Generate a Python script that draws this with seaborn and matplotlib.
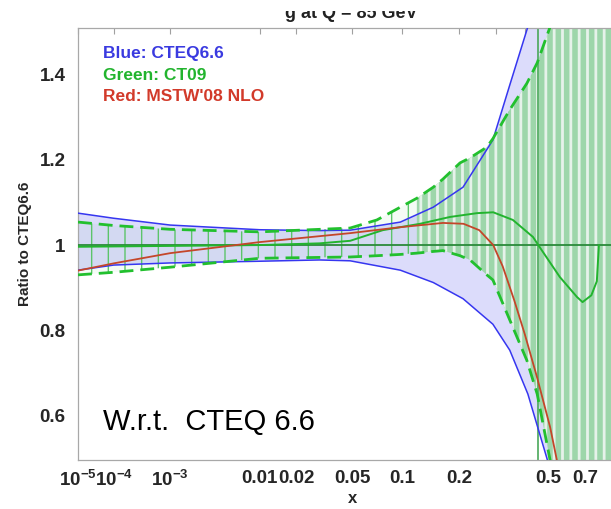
import numpy as np
import matplotlib.pyplot as plt
import seaborn as sns
from matplotlib.patches import Rectangle

# ---- data ----
x_tick_vals = [1e-5, 1e-4, 1e-3, 0.01, 0.02, 0.05, 0.1, 0.2, 0.3, 0.4, 0.5, 0.7]
x_tick_labels = [r'$\mathbf{10^{-5}}$', r'$\mathbf{10^{-4}}$', r'$\mathbf{10^{-3}}$',
                 '0.01', '0.02', '0.05', '0.1', '0.2', '', '', '0.5', '0.7']
y_tick_vals = [0.6, 0.8, 1.0, 1.2, 1.4]
y_tick_labels = ['0.6', '0.8', '1', '1.2', '1.4']

# CTEQ6.6 band (blue)
blue_x = [1e-5, 1e-4, 1e-3, 0.01, 0.03, 0.0486, 0.098, 0.148, 0.209, 0.289, 0.344, 0.412, 0.5, 0.7, 1.0]
blue_hi = [1.075, 1.063, 1.047, 1.036, 1.034, 1.035, 1.054, 1.089, 1.136, 1.247, 1.376, 1.513, 1.8, 2.5, 3.5]
blue_lo = [0.941, 0.953, 0.958, 0.962, 0.965, 0.963, 0.941, 0.912, 0.874, 0.814, 0.753, 0.65, 0.49, 0.0, -0.5]

# CT09 band (green)
green_x = [1e-5, 1e-4, 1e-3, 0.01, 0.0486, 0.0715, 0.098, 0.121, 0.148, 0.166, 0.202, 0.226,
           0.271, 0.289, 0.344, 0.408, 0.451, 0.51, 0.7, 1.0]
green_hi = [1.054, 1.046, 1.037, 1.031, 1.04, 1.059, 1.089, 1.11, 1.136, 1.155, 1.193, 1.205,
            1.23, 1.25, 1.318, 1.38, 1.428, 1.513, 2.0, 3.0]
green_lo = [0.93, 0.936, 0.948, 0.969, 0.972, 0.975, 0.978, 0.981, 0.985, 0.987, 0.975, 0.965,
            0.93, 0.918, 0.824, 0.729, 0.65, 0.494, 0.0, -0.5]

# CT09 central
ct09_x = [1e-5, 1e-3, 0.01, 0.03, 0.0486, 0.0775, 0.126, 0.18, 0.244, 0.29, 0.355, 0.433,
          0.462, 0.558, 0.652, 0.685, 0.74, 0.776, 0.79]
ct09_y = [0.996, 0.998, 1.0, 1.004, 1.01, 1.035, 1.05, 1.066, 1.075, 1.077, 1.059, 1.019,
          0.995, 0.925, 0.878, 0.866, 0.882, 0.915, 1.0]

# MSTW'08 NLO (red)
mstw_x = [1e-5, 1e-4, 1e-3, 0.01, 0.0486, 0.098, 0.166, 0.21, 0.25, 0.29, 0.32, 0.36, 0.40,
          0.45, 0.51, 0.545]
mstw_y = [0.94, 0.957, 0.981, 1.007, 1.028, 1.042, 1.052, 1.05, 1.035, 1.0, 0.95, 0.87, 0.79,
          0.69, 0.572, 0.49]

dense_from = 0.121   # where the green band turns into solid stripes
dark_stripe_x = 0.455

sns.set_theme(style='white')
plt.rcParams['font.family'] = ['Liberation Sans', 'DejaVu Sans']
plt.rcParams['mathtext.fontset'] = 'custom'
plt.rcParams['mathtext.bf'] = 'Liberation Sans:bold'
plt.rcParams['mathtext.rm'] = 'Liberation Sans:bold'

fig = plt.figure(figsize=(6.11, 5.09), dpi=100)
ax = fig.add_axes([78 / 611, 1 - 460 / 509, 549 / 611, 432 / 509])

ax.set_xscale('function', functions=(lambda v: np.sign(v) * np.abs(v) ** 0.2,
                                     lambda v: np.sign(v) * np.abs(v) ** 5))
ax.set_xlim(1e-5, 1.0)
ax.set_ylim(0.495, 1.51)

# blue band
ax.fill_between(blue_x, blue_lo, blue_hi, color='#dcdcfb', lw=0, zorder=1)

# green band: thin vertical lines everywhere
plt.rcParams['hatch.linewidth'] = 1.0
ax.fill_between(green_x, green_lo, green_hi, facecolor=(0.2, 0.7, 0.3, 0.05),
                edgecolor='#5cc46a', hatch='|', lw=0, zorder=2)
# dense stripes at large x
gx = np.array(green_x)
plt.rcParams['hatch.linewidth'] = 2.0
ax.fill_between(green_x, green_lo, green_hi, where=gx >= dense_from, facecolor='#9dd6aa',
                edgecolor='#e6f2ea', hatch='||', lw=0, zorder=2)
ax.axvline(dark_stripe_x, color='#4aa85a', lw=1.2, zorder=2)

# band edges
sns.lineplot(x=blue_x, y=blue_hi, color='#3636f0', lw=1.1, sort=False, estimator=None, ax=ax, zorder=3)
sns.lineplot(x=blue_x, y=blue_lo, color='#3636f0', lw=1.1, sort=False, estimator=None, ax=ax, zorder=3)
for band in (green_hi, green_lo):
    sns.lineplot(x=green_x, y=band, color='#22c02e', lw=2.0, sort=False, estimator=None,
                 ax=ax, zorder=4, dashes=False).lines[-1].set_dashes((5, 2.5))

ax.axhline(1.0, color='#2a8a3a', lw=1.3, zorder=4)
sns.lineplot(x=ct09_x, y=ct09_y, color='#22b42e', lw=1.4, sort=False, estimator=None, ax=ax, zorder=5)
sns.lineplot(x=mstw_x, y=mstw_y, color='#c4462a', lw=1.3, sort=False, estimator=None, ax=ax, zorder=5)

# axes styling
ax.set_xticks(x_tick_vals)
ax.set_xticklabels(x_tick_labels)
ax.set_yticks(y_tick_vals)
ax.set_yticklabels(y_tick_labels)
ax.set_yticks([0.5, 0.7, 0.9, 1.1, 1.3, 1.5], minor=True)
ax.tick_params(axis='both', which='both', direction='in', color='#a0a0a0', top=True,
               labelsize=13.5, length=4, width=0.8)
ax.tick_params(axis='both', which='minor', length=2.5)
ax.tick_params(axis='x', pad=7)
ax.tick_params(axis='y', pad=9)
for lab in ax.get_xticklabels() + ax.get_yticklabels():
    lab.set_fontweight('bold')
for s in ax.spines.values():
    s.set_color('#a8a8a8')
    s.set_linewidth(0.9)

ax.set_xlabel('x', fontsize=12, fontweight='bold', labelpad=1)
ax.set_ylabel('Ratio to CTEQ6.6', fontsize=11, fontweight='bold', labelpad=5)

ax.text(0.0455, 0.93, 'Blue: CTEQ6.6', color='#3a3ae0', fontsize=12.5, fontweight='bold',
        transform=ax.transAxes, va='baseline')
ax.text(0.0455, 0.88, 'Green: CT09', color='#22b42e', fontsize=12.5, fontweight='bold',
        transform=ax.transAxes, va='baseline')
ax.text(0.0455, 0.83, "Red: MSTW'08 NLO", color='#d23a2a', fontsize=12.5, fontweight='bold',
        transform=ax.transAxes, va='baseline')
ax.text(0.0455, 0.07, 'W.r.t.  CTEQ 6.6', color='black', fontsize=21,
        transform=ax.transAxes, va='baseline')

# title, only its lower half shows in the source image
fig.text(351 / 611, 1 - 18 / 509, 'g at Q = 85 GeV', ha='center', va='baseline',
         fontsize=13, fontweight='bold', color='#222222')
fig.patches.append(Rectangle((0.3, 1 - 11 / 509), 0.45, 11 / 509, transform=fig.transFigure,
                             facecolor='white', edgecolor='none', zorder=10))

fig.savefig('out.png', dpi=100)
